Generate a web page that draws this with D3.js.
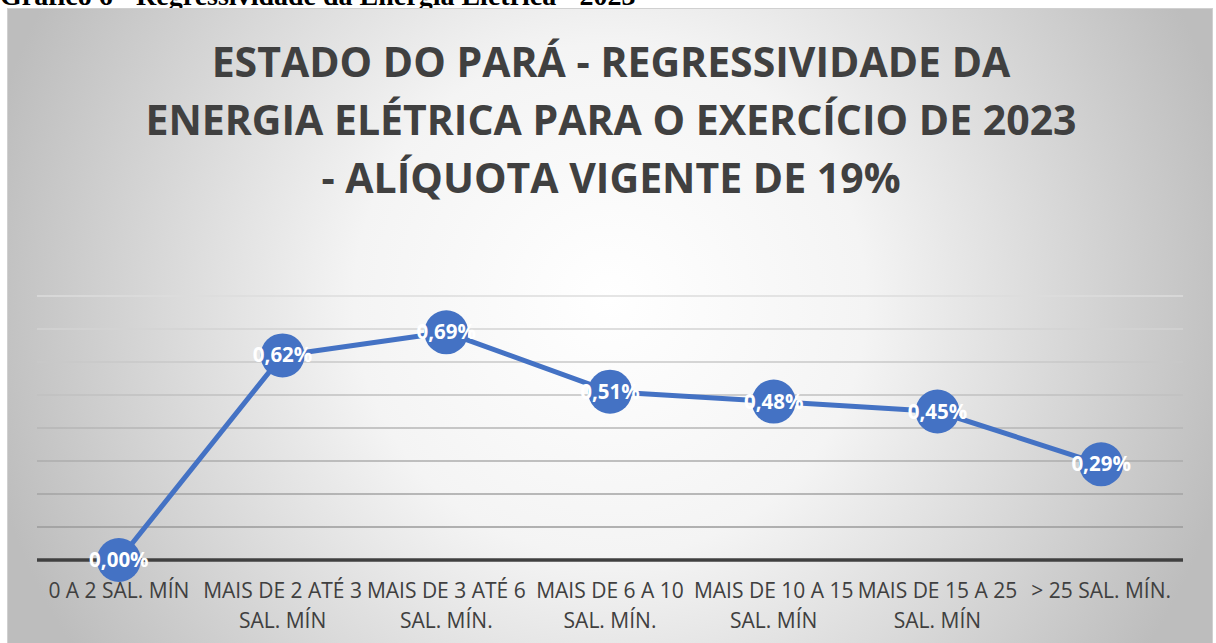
<!DOCTYPE html>
<html>
<head>
<meta charset="utf-8">
<script src="https://cdn.jsdelivr.net/npm/d3@7"></script>
<style>
  body { margin: 0; background: #fff; }
  svg { display: block; }
</style>
</head>
<body>
<div id="chart"></div>
<script>
var categories = [
  ["0 A 2 SAL. MÍN"],
  ["MAIS DE 2 ATÉ 3", "SAL. MÍN"],
  ["MAIS DE 3 ATÉ 6", "SAL. MÍN."],
  ["MAIS DE 6 A 10", "SAL. MÍN."],
  ["MAIS DE 10 A 15", "SAL. MÍN"],
  ["MAIS DE 15 A 25", "SAL. MÍN"],
  ["> 25 SAL. MÍN."]
];
var values = [0.00, 0.62, 0.69, 0.51, 0.48, 0.45, 0.29];
var yTicks = [0, 0.1, 0.2, 0.3, 0.4, 0.5, 0.6, 0.7, 0.8];
var titleLines = [
  "ESTADO DO PARÁ - REGRESSIVIDADE DA",
  "ENERGIA ELÉTRICA PARA O EXERCÍCIO DE 2023",
  "- ALÍQUOTA VIGENTE DE 19%"
];
var caption = "Gráfico 6 - Regressividade da Energia Elétrica - 2023";

var W = 1216, H = 643;
var svg = d3.select("#chart").append("svg").attr("width", W).attr("height", H);

// background gradient like the excel chart area
var defs = svg.append("defs");
var grad = defs.append("radialGradient").attr("id", "bg")
    .attr("gradientUnits", "userSpaceOnUse")
    .attr("cx", 610).attr("cy", 300).attr("r", 640);
grad.append("stop").attr("offset", "0%").attr("stop-color", "#ffffff");
grad.append("stop").attr("offset", "40%").attr("stop-color", "#f4f4f4");
grad.append("stop").attr("offset", "100%").attr("stop-color", "#bdbdbd");

// caption, mostly cut off at the top of the page
svg.append("text")
    .attr("x", 0).attr("y", 5)
    .style("font-family", "'Liberation Serif', serif")
    .style("font-weight", "bold")
    .style("font-size", "28px")
    .style("fill", "#000")
    .text(caption);

svg.append("rect")
    .attr("x", 7.5).attr("y", 8.5).attr("width", 1205).attr("height", 640)
    .style("fill", "url(#bg)")
    .style("stroke", "#d0d0d0").style("stroke-width", 1);

var margin = {left: 37, right: 1183, top: 296, bottom: 560};

var x = d3.scaleBand().domain(d3.range(categories.length))
    .range([margin.left, margin.right]);
var y = d3.scaleLinear().domain([0, 0.8]).range([margin.bottom, margin.top]);

var gridColor = d3.scaleLinear().domain([0.8, 0.1]).range(["#dcdcdc", "#9a9a9a"]);

// title
svg.append("g").selectAll("text")
    .data(titleLines)
    .enter().append("text")
    .attr("x", 611)
    .attr("y", function(d, i) { return 77 + i * 58; })
    .attr("text-anchor", "middle")
    .style("font-family", "'Open Sans', sans-serif")
    .style("font-weight", "bold")
    .style("font-size", "41px")
    .style("fill", "#404040")
    .text(function(d) { return d; });

// gridlines
svg.append("g").selectAll("line")
    .data(yTicks.filter(function(d) { return d > 0; }))
    .enter().append("line")
    .attr("x1", margin.left).attr("x2", margin.right)
    .attr("y1", function(d) { return y(d); })
    .attr("y2", function(d) { return y(d); })
    .style("stroke", function(d) { return gridColor(d); })
    .style("stroke-width", 1.3);

// axis line
svg.append("line")
    .attr("x1", margin.left).attr("x2", margin.right)
    .attr("y1", y(0)).attr("y2", y(0))
    .style("stroke", "#404040").style("stroke-width", 3.5);

// category labels
var lab = svg.append("g").selectAll("text")
    .data(categories)
    .enter().append("text")
    .attr("text-anchor", "middle")
    .style("font-family", "'Open Sans', sans-serif")
    .style("font-size", "21px")
    .style("fill", "#404040");
lab.selectAll("tspan")
    .data(function(d, i) { return d.map(function(t) { return {t: t, i: i}; }); })
    .enter().append("tspan")
    .attr("x", function(d) { return x(d.i) + x.bandwidth() / 2; })
    .attr("y", function(d, j) { return 598 + j * 30; })
    .text(function(d) { return d.t; });

// line
var cx = function(d, i) { return x(i) + x.bandwidth() / 2; };
var line = d3.line()
    .x(function(d, i) { return cx(d, i); })
    .y(function(d) { return y(d); });

svg.append("path")
    .datum(values)
    .attr("d", line)
    .style("fill", "none")
    .style("stroke", "#4472C4")
    .style("stroke-width", 5)
    .style("stroke-linejoin", "round");

svg.append("g").selectAll("circle")
    .data(values)
    .enter().append("circle")
    .attr("cx", cx)
    .attr("cy", function(d) { return y(d); })
    .attr("r", 22)
    .style("fill", "#4472C4");

svg.append("g").selectAll("text")
    .data(values)
    .enter().append("text")
    .attr("x", cx)
    .attr("y", function(d) { return y(d) + 7; })
    .attr("text-anchor", "middle")
    .style("font-family", "'Open Sans', sans-serif")
    .style("font-weight", "bold")
    .style("font-size", "20.5px")
    .style("fill", "#fff")
    .text(function(d) { return d.toFixed(2).replace(".", ",") + "%"; });
</script>
</body>
</html>
